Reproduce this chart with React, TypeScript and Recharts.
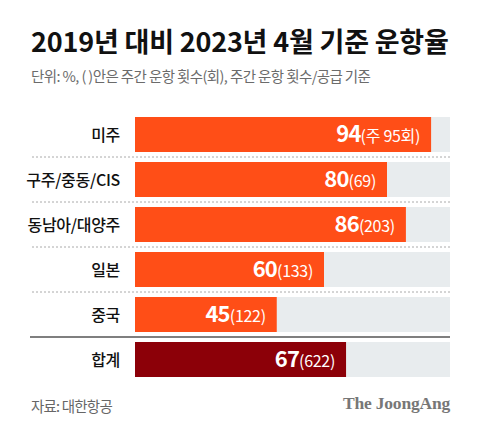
import React from "react";
import { BarChart, Bar, XAxis, YAxis, Cell, LabelList } from "recharts";

const regions = ["미주", "구주/중동/CIS", "동남아/대양주", "일본", "중국", "합계"];
const rates = [94, 80, 86, 60, 45, 67];
const flights = ["주 95회", "69", "203", "133", "122", "622"];

const data = regions.map((name, i) => ({ name, rate: rates[i], flights: flights[i] }));

const FONT = "'Noto Sans CJK KR', 'Noto Sans', sans-serif";
const ORANGE = "#FF4E17";
const MAROON = "#8C0008";
const TRACK = "#E8ECEE";

const RowShape = (props: any) => {
  const { x, y, width, height, index, background } = props;
  const right = background ? background.x + background.width : 450;
  const isTotal = index === data.length - 1;
  return (
    <g>
      {index > 0 && (
        <line
          x1={isTotal ? 30 : 32}
          x2={right}
          y1={y - 5}
          y2={y - 5}
          stroke={isTotal ? "#555" : "#aaa"}
          strokeWidth={isTotal ? 1.5 : 1}
          strokeDasharray={isTotal ? undefined : "2 2"}
        />
      )}
      <rect x={x} y={y} width={width} height={height} fill={props.fill} />
    </g>
  );
};

const ValueLabel = (props: any) => {
  const { x, y, width, height, index } = props;
  return (
    <text
      x={x + width - 11}
      y={y + height / 2}
      dy={7}
      textAnchor="end"
      fill="#fff"
      fontFamily={FONT}
    >
      <tspan fontSize={22} fontWeight={700} letterSpacing={-0.8}>
        {rates[index]}
      </tspan>
      <tspan fontSize={16} fontWeight={400} letterSpacing={-0.3}>
        ({flights[index]})
      </tspan>
    </text>
  );
};

const NameTick = (props: any) => {
  const { x, y, payload } = props;
  return (
    <text x={x} y={y} dy={6} textAnchor="end" fill="#111" fontSize={16} fontWeight={500} letterSpacing={-0.3} fontFamily={FONT}>
      {payload.value}
    </text>
  );
};

export default function App() {
  return (
    <div style={{ position: "relative", width: 480, height: 434, background: "#fff", fontFamily: FONT }}>
      <style>{"body{margin:0}"}</style>
      <div
        style={{
          position: "absolute",
          left: 31,
          top: 21,
          fontSize: 27,
          fontWeight: 700,
          letterSpacing: -0.2,
          color: "#111",
          whiteSpace: "nowrap",
        }}
      >
        2019년 대비 2023년 4월 기준 운항율
      </div>
      <div
        style={{
          position: "absolute",
          left: 31,
          top: 65,
          fontSize: 14.5,
          color: "#6b6b6b",
          letterSpacing: -0.6,
          whiteSpace: "nowrap",
        }}
      >
        단위: %, ( )안은 주간 운항 횟수(회), 주간 운항 횟수/공급 기준
      </div>
      <BarChart
        width={480}
        height={434}
        data={data}
        layout="vertical"
        margin={{ top: 112, right: 30, bottom: 52, left: 0 }}
        barSize={35}
      >
        <XAxis type="number" domain={[0, 100]} hide />
        <YAxis
          type="category"
          dataKey="name"
          width={135}
          axisLine={false}
          tickLine={false}
          tickSize={0}
          tickMargin={15}
          tick={<NameTick />}
        />
        <Bar
          dataKey="rate"
          background={{ fill: TRACK }}
          shape={<RowShape />}
          isAnimationActive={false}
        >
          {data.map((d, i) => (
            <Cell key={d.name} fill={i === data.length - 1 ? MAROON : ORANGE} />
          ))}
          <LabelList dataKey="rate" content={<ValueLabel />} />
        </Bar>
      </BarChart>
      <div
        style={{
          position: "absolute",
          left: 31,
          top: 395,
          fontSize: 14.5,
          color: "#666",
          letterSpacing: -0.8,
        }}
      >
        자료: 대한항공
      </div>
      <div
        style={{
          position: "absolute",
          right: 30,
          top: 393,
          fontSize: 17.5,
          fontWeight: 700,
          color: "#777",
          fontFamily: "'Liberation Serif', 'DejaVu Serif', serif",
          letterSpacing: -0.2,
        }}
      >
        The JoongAng
      </div>
    </div>
  );
}
